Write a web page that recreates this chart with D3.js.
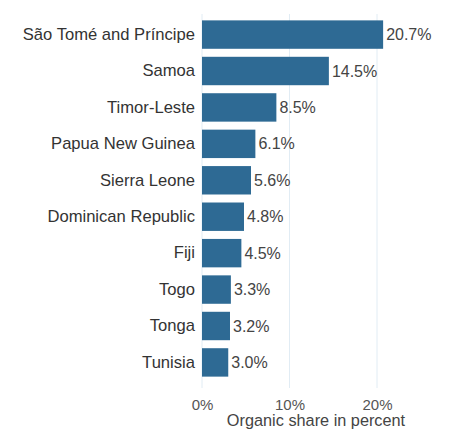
<!DOCTYPE html>
<html><head><meta charset="utf-8">
<script src="https://cdn.jsdelivr.net/npm/d3@7"></script>
<style>body{margin:0;background:#fff}svg{display:block}text{font-family:"Liberation Sans",Arial,sans-serif}</style>
</head><body><svg id="c" width="451" height="431"></svg>
<script>
const countries = ["São Tomé and Príncipe","Samoa","Timor-Leste","Papua New Guinea","Sierra Leone","Dominican Republic","Fiji","Togo","Tonga","Tunisia"];
const shares = [20.7,14.5,8.5,6.1,5.6,4.8,4.5,3.3,3.2,3.0];
const xTicks = [0,10,20];
const xTitle = "Organic share in percent";

const svg = d3.select("#c");
const x = d3.scaleLinear().domain([0,20]).range([202,377]);
const y = d3.scaleBand().domain(countries).range([16,381]).paddingInner(0.22).paddingOuter(0.12);
const FONT = "Liberation Sans, Arial, sans-serif";

svg.append("g").selectAll("line").data(xTicks).join("line")
  .attr("x1",d=>x(d)).attr("x2",d=>x(d)).attr("y1",14).attr("y2",388)
  .attr("stroke","#e1ecf4").attr("stroke-width",1);

const data = countries.map((c,i)=>({c,v:shares[i]}));
svg.append("g").selectAll("rect").data(data).join("rect")
  .attr("x",x(0)).attr("y",d=>y(d.c)).attr("width",d=>x(d.v)-x(0)).attr("height",y.bandwidth())
  .attr("fill","#2e6a94");

svg.append("g").selectAll("text").data(data).join("text")
  .attr("x",d=>x(d.v)+3).attr("y",d=>y(d.c)+y.bandwidth()/2).attr("dy","0.35em")
  .attr("font-size",16).attr("fill","#444").text(d=>d.v.toFixed(1)+"%");

const yAxis = svg.append("g").attr("transform",`translate(${x(0)},0)`)
  .call(d3.axisLeft(y).tickSize(0).tickPadding(7));
yAxis.select(".domain").remove();
yAxis.selectAll("text").attr("font-size",16.6).attr("fill","#333").style("font-family",FONT);

const xAxis = svg.append("g").attr("transform","translate(0,396)")
  .call(d3.axisBottom(x).tickValues(xTicks).tickSize(0).tickPadding(3).tickFormat(d=>d+"%"));
xAxis.select(".domain").remove();
xAxis.selectAll("text").attr("font-size",15).attr("fill","#555").style("font-family",FONT);

svg.append("text").attr("x",316).attr("y",426).attr("text-anchor","middle")
  .attr("font-size",16.3).attr("fill","#444").text(xTitle);
</script></body></html>
